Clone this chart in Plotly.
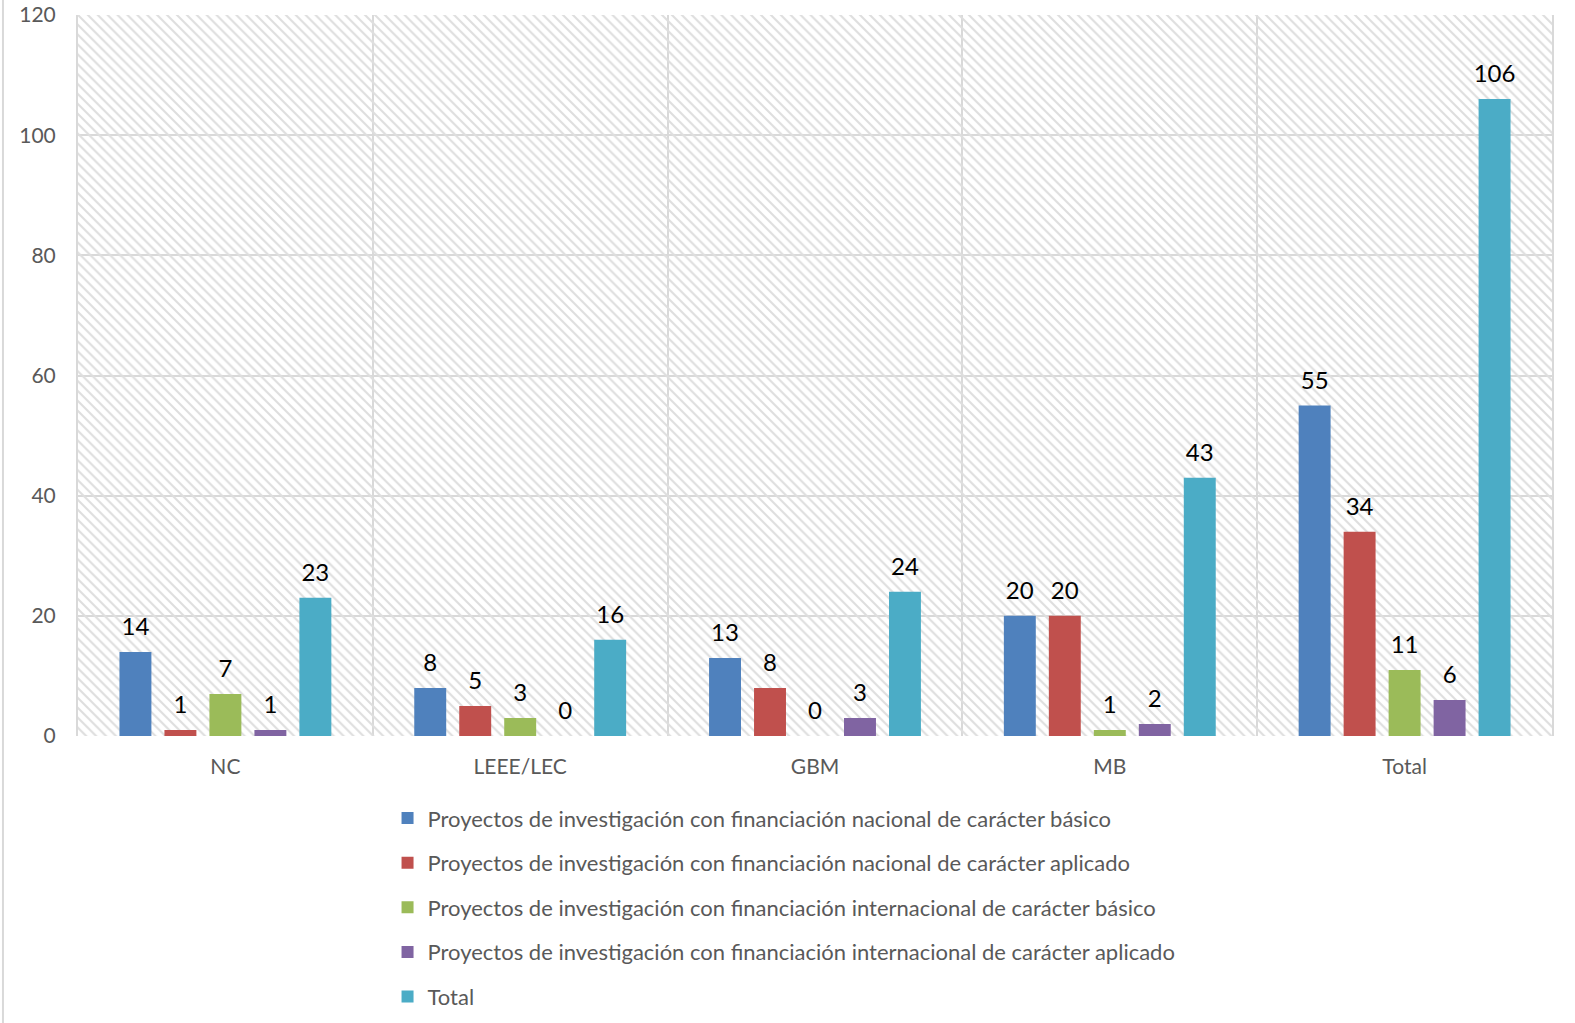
import plotly.graph_objects as go

categories = ["NC", "LEEE/LEC", "GBM", "MB", "Total"]
series_names = [
    "Proyectos de investigación con financiación nacional de carácter básico",
    "Proyectos de investigación con financiación nacional de carácter aplicado",
    "Proyectos de investigación con financiación internacional de carácter básico",
    "Proyectos de investigación con financiación internacional de carácter aplicado",
    "Total",
]
nac_basico = [14, 8, 13, 20, 55]
nac_aplicado = [1, 5, 8, 20, 34]
int_basico = [7, 3, 0, 1, 11]
int_aplicado = [1, 0, 3, 2, 6]
total = [23, 16, 24, 43, 106]
series_values = [nac_basico, nac_aplicado, int_basico, int_aplicado, total]
colors = ["#4F81BD", "#C0504D", "#9BBB59", "#8064A2", "#4BACC6"]
y_ticks = [0, 20, 40, 60, 80, 100, 120]

FONT = "Lato, Carlito, Calibri, sans-serif"
GRID = "#d9d9d9"

L, R, T, B = 78, 23, 15, 287
W, H = 1575, 1023

fig = go.Figure()

# hatched plot background (decoration)
fig.add_trace(go.Bar(
    x=[0.5], y=[max(y_ticks)], width=[1], xaxis="x", yaxis="y",
    marker=dict(color="rgba(0,0,0,0)", line=dict(width=0),
                pattern=dict(shape="\\", fgcolor="#dedede", bgcolor="rgba(0,0,0,0)",
                             size=7, solidity=0.3, fillmode="replace")),
    showlegend=False, hoverinfo="skip",
))

for i, (name, vals, col) in enumerate(zip(series_names, series_values, colors)):
    fig.add_trace(go.Bar(
        x=categories, y=vals, name=name, xaxis="x2", yaxis="y",
        marker=dict(color=col, line=dict(width=0)),
        text=[f"<span style='font-size:24px'>{v}</span><br> " for v in vals],
        textposition="outside", constraintext="none",
        textfont=dict(family=FONT, size=9, color="#000000"),
        cliponaxis=False, legendgroup=f"g{i}",
    ))

fig.update_layout(
    width=W, height=H,
    paper_bgcolor="white", plot_bgcolor="white",
    margin=dict(l=L, r=R, t=T, b=B, autoexpand=False),
    barmode="group", bargap=0.237, bargroupgap=0.29,
    font=dict(family=FONT, size=20, color="#595959"),
    xaxis=dict(range=[0, 1], dtick=0.2, tick0=0, showgrid=True, gridcolor=GRID, gridwidth=2,
               showticklabels=False, zeroline=False, showline=False, fixedrange=True,
               automargin=False),
    xaxis2=dict(overlaying="x", type="category", showgrid=False, showline=False,
                ticks="", ticklabelstandoff=16, automargin=False,
                tickfont=dict(family=FONT, size=21, color="#595959"),
                anchor="y", side="bottom", range=[-0.5, 4.5]),
    yaxis=dict(range=[0, 120], tickvals=y_ticks, showgrid=True, gridcolor=GRID, gridwidth=2,
               zeroline=False, showline=True, linecolor=GRID, linewidth=2, mirror=True,
               ticks="", ticklabelstandoff=16, automargin=False, ticklabeloverflow="allow",
               tickfont=dict(family=FONT, size=21, color="#595959")),
    legend=dict(x=0.210, y=-0.085, xanchor="left", yanchor="top",
                font=dict(family=FONT, size=22, color="#595959"),
                traceorder="grouped", tracegroupgap=13, itemwidth=30,
                bgcolor="rgba(0,0,0,0)"),
    showlegend=True,
    shapes=[dict(type="line", xref="paper", yref="paper", x0=-0.0509, x1=-0.0509,
                 y0=-0.4, y1=1.03, line=dict(color=GRID, width=2))],
)

fig.write_html("out.html", config={"displayModeBar": False},
               post_script="document.body.style.margin='0';")
